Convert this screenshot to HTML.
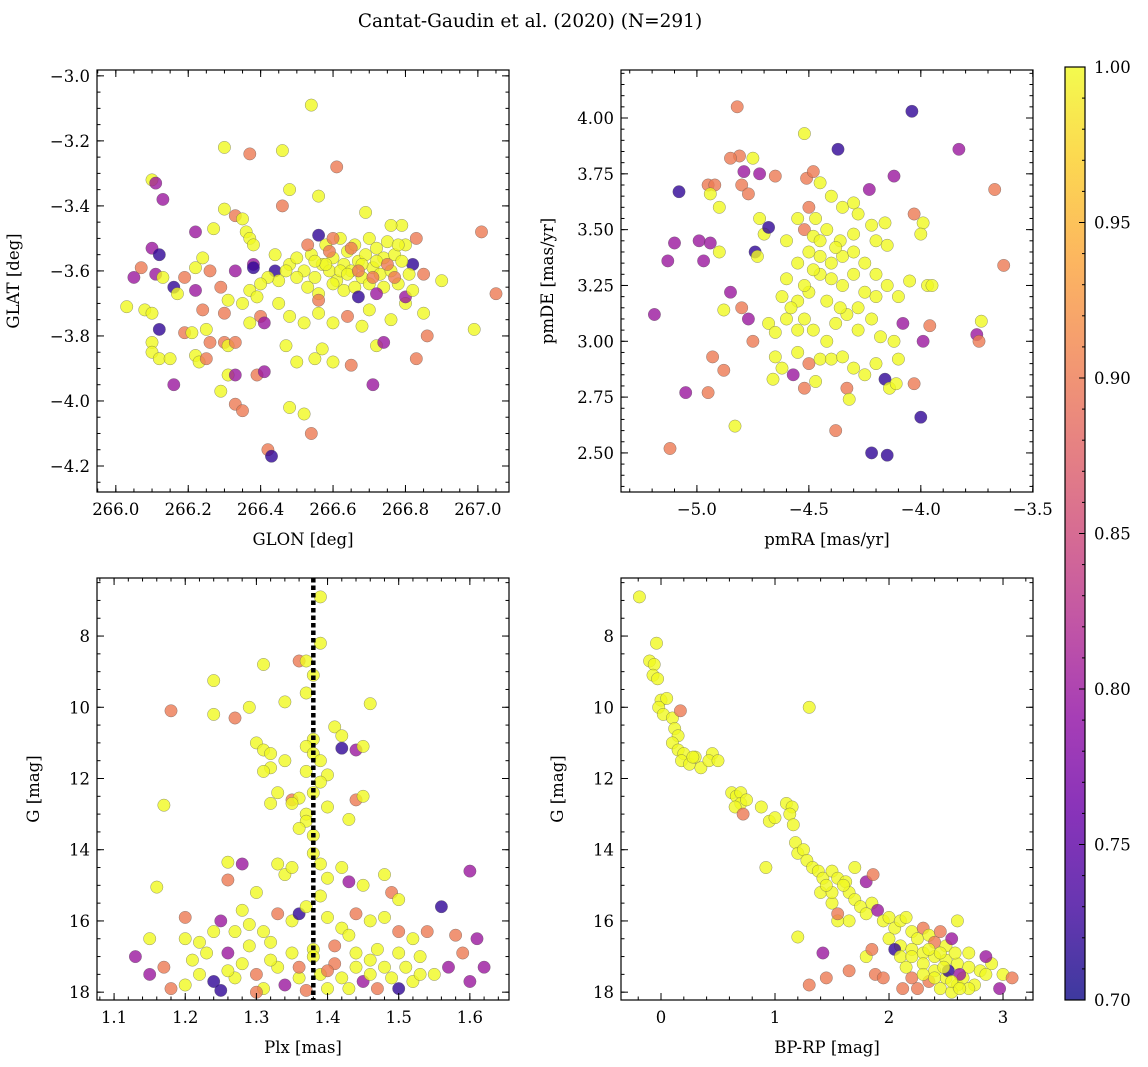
<!DOCTYPE html>
<html><head><meta charset="utf-8">
<style>
html,body{margin:0;padding:0;background:#fff;}
svg{display:block;font-family:"DejaVu Serif","Liberation Serif",serif;}
</style></head>
<body>
<svg id="fig" width="1148" height="1067" viewBox="0 0 1148 1067" xmlns="http://www.w3.org/2000/svg">
<text x="530" y="27" font-size="18.5" text-anchor="middle">Cantat-Gaudin et al. (2020) (N=291)</text>
</svg>
<script>
// ---------- data ----------
const skyPoints = [
[266.54,-3.09,1],[266.30,-3.22,1],[266.37,-3.24,0.9],[266.46,-3.23,1],[266.61,-3.28,0.9],
[266.10,-3.32,1],[266.11,-3.33,0.8],[266.13,-3.38,0.8],[266.48,-3.35,1],[266.56,-3.37,1],
[266.30,-3.41,1],[266.33,-3.43,0.9],[266.46,-3.40,0.9],[266.35,-3.44,1],[266.10,-3.53,0.8],
[266.12,-3.55,0.72],[266.22,-3.48,0.8],[266.27,-3.47,1],[266.36,-3.48,1],[266.37,-3.5,1],[266.38,-3.52,1],
[266.05,-3.62,0.8],[266.07,-3.59,0.9],[266.11,-3.61,0.8],[266.13,-3.62,1],[266.16,-3.65,0.72],[266.17,-3.67,1],
[266.19,-3.62,0.9],[266.22,-3.59,1],[266.22,-3.66,0.8],[266.24,-3.56,1],[266.26,-3.60,0.9],
[266.03,-3.71,1],[266.08,-3.72,1],[266.10,-3.73,1],[266.12,-3.78,0.72],[266.10,-3.82,1],[266.10,-3.85,1],
[266.12,-3.87,1],[266.15,-3.87,1],[266.16,-3.95,0.8],[266.19,-3.79,0.9],[266.21,-3.79,1],[266.22,-3.86,1],
[266.23,-3.88,1],[266.24,-3.72,0.9],[266.25,-3.78,1],[266.26,-3.82,0.9],[266.25,-3.87,0.9],[266.30,-3.82,0.9],
[266.31,-3.83,1],[266.33,-3.82,0.9],[266.31,-3.92,1],[266.33,-3.92,0.8],[266.29,-3.97,1],[266.33,-4.01,0.9],
[266.35,-4.03,0.9],[266.39,-3.92,0.9],[266.41,-3.91,0.8],[266.42,-4.15,0.9],[266.43,-4.17,0.72],[266.48,-4.02,1],
[266.52,-4.04,1],[266.54,-4.10,0.9],[266.47,-3.83,1],[266.50,-3.88,1],[266.57,-3.84,1],[266.55,-3.87,1],
[266.60,-3.88,1],[266.65,-3.89,0.9],[266.71,-3.95,0.8],[266.72,-3.83,1],[266.74,-3.82,0.8],[266.83,-3.87,0.9],
[266.86,-3.80,0.9],[266.99,-3.78,1],[267.01,-3.48,0.9],[267.05,-3.67,0.9],[266.90,-3.63,1],[266.85,-3.61,0.9],
[266.82,-3.58,0.72],[266.83,-3.50,0.9],[266.79,-3.46,1],[266.76,-3.46,1],[266.69,-3.42,1],[266.38,-3.58,0.8],
[266.38,-3.59,0.72],[266.44,-3.60,0.72],[266.56,-3.49,0.72],[266.44,-3.55,1],[266.37,-3.66,1],[266.40,-3.74,0.9],
[266.37,-3.76,1],[266.41,-3.76,0.8],[266.30,-3.73,0.9],[266.29,-3.65,0.9],[266.33,-3.60,0.8],[266.31,-3.69,1],
[266.35,-3.70,1],[266.39,-3.68,1],[266.45,-3.70,1],[266.48,-3.74,1],[266.52,-3.76,1],[266.56,-3.73,1],
[266.60,-3.76,1],[266.64,-3.74,0.9],[266.68,-3.77,1],[266.70,-3.72,1],[266.76,-3.75,1],[266.80,-3.70,1],
[266.85,-3.73,1],[266.80,-3.68,0.8],
[266.48,-3.58,1],[266.50,-3.56,1],[266.52,-3.60,1],[266.54,-3.55,1],[266.55,-3.62,1],[266.57,-3.58,1],
[266.58,-3.52,1],[266.59,-3.60,1],[266.60,-3.56,1],[266.61,-3.63,1],[266.62,-3.50,1],[266.63,-3.58,1],
[266.64,-3.54,1],[266.65,-3.60,1],[266.66,-3.52,1],[266.67,-3.57,1],[266.68,-3.62,1],[266.69,-3.55,1],
[266.70,-3.50,1],[266.71,-3.59,1],[266.72,-3.53,1],[266.73,-3.61,1],[266.74,-3.56,1],[266.75,-3.51,1],
[266.76,-3.60,1],[266.77,-3.55,1],[266.78,-3.64,1],[266.79,-3.57,1],[266.80,-3.52,1],[266.81,-3.61,1],
[266.82,-3.66,1],[266.78,-3.52,1],[266.53,-3.65,1],[266.56,-3.67,1],[266.60,-3.64,1],[266.63,-3.66,1],
[266.66,-3.65,1],[266.70,-3.64,1],[266.74,-3.65,1],[266.50,-3.62,1],[266.47,-3.60,1],[266.45,-3.63,1],
[266.42,-3.62,1],[266.40,-3.64,1],[266.58,-3.58,1],[266.62,-3.60,1],[266.68,-3.58,1],[266.72,-3.57,1],
[266.64,-3.61,1],[266.55,-3.57,1],[266.59,-3.54,0.9],[266.67,-3.60,0.9],[266.75,-3.58,0.9],[266.71,-3.62,0.9],
[266.65,-3.53,0.9],[266.77,-3.62,0.9],[266.53,-3.52,0.9],[266.60,-3.50,0.9],[266.72,-3.67,0.8],[266.67,-3.68,0.72],
[266.56,-3.69,0.9]
];
const pmPoints = [
[-4.52,3.93,1],[-4.04,4.03,0.72],[-4.37,3.86,0.72],[-3.83,3.86,0.8],[-4.82,4.05,0.9],[-4.81,3.83,0.9],
[-4.85,3.82,0.9],[-4.72,3.75,0.8],[-4.79,3.76,0.8],[-4.65,3.74,0.9],[-4.51,3.73,0.9],[-4.48,3.76,0.9],
[-4.45,3.71,1],[-4.23,3.68,0.8],[-4.12,3.74,0.8],[-3.67,3.68,0.9],[-5.08,3.67,0.72],[-4.95,3.70,0.9],
[-4.92,3.70,0.9],[-4.94,3.66,1],[-4.80,3.70,0.9],[-4.77,3.66,0.9],[-4.90,3.60,1],[-4.50,3.60,0.9],
[-4.40,3.65,1],[-4.35,3.60,1],[-4.30,3.62,1],[-4.28,3.57,1],[-4.47,3.55,1],[-4.55,3.55,1],[-4.72,3.55,1],
[-4.70,3.48,1],[-4.68,3.51,0.72],[-4.74,3.40,0.72],[-4.73,3.38,1],[-4.60,3.45,1],[-4.52,3.50,0.9],
[-4.48,3.47,1],[-4.42,3.50,1],[-4.36,3.45,1],[-4.30,3.48,1],[-4.22,3.52,1],[-4.16,3.53,1],[-4.20,3.45,1],
[-4.15,3.43,1],[-4.03,3.57,0.9],[-3.99,3.53,1],[-4.00,3.48,1],[-4.05,3.27,1],[-3.97,3.25,1],[-3.95,3.25,1],
[-3.63,3.34,0.9],[-5.10,3.44,0.8],[-5.13,3.36,0.8],[-5.19,3.12,0.8],[-4.99,3.45,0.8],[-4.94,3.44,0.8],
[-4.97,3.36,0.8],[-4.90,3.40,1],[-4.88,3.14,1],[-4.85,3.22,0.8],[-4.80,3.15,0.9],[-4.77,3.10,0.8],
[-4.75,3.00,0.9],[-4.68,3.08,1],[-4.65,3.04,1],[-4.60,3.10,1],[-4.55,3.18,1],[-4.50,3.22,1],[-4.45,3.30,1],
[-4.40,3.28,1],[-4.35,3.25,1],[-4.30,3.30,1],[-4.25,3.22,1],[-4.20,3.20,1],[-4.15,3.25,1],[-4.10,3.20,1],
[-4.60,3.28,1],[-4.55,3.35,1],[-4.50,3.40,1],[-4.45,3.38,1],[-4.40,3.35,1],[-4.35,3.38,1],[-4.30,3.40,1],
[-4.25,3.35,1],[-4.20,3.30,1],[-4.62,3.20,1],[-4.58,3.15,1],[-4.52,3.10,1],[-4.48,3.05,1],[-4.42,3.00,1],
[-4.38,3.08,1],[-4.33,3.12,1],[-4.28,3.15,1],[-4.22,3.10,1],[-4.18,3.02,1],[-4.12,3.00,1],[-4.10,2.92,1],
[-4.65,2.93,1],[-4.62,2.88,1],[-4.55,2.95,1],[-4.50,2.90,0.9],[-4.45,2.92,1],[-4.40,2.92,1],[-4.35,2.93,1],
[-4.30,2.88,1],[-4.25,2.85,1],[-4.20,2.90,1],[-4.66,2.83,1],[-4.57,2.85,0.8],[-4.52,2.79,0.9],[-4.47,2.82,1],
[-4.33,2.79,0.9],[-4.32,2.74,1],[-4.16,2.83,0.72],[-4.14,2.79,1],[-4.11,2.81,1],[-4.03,2.81,0.9],
[-3.99,3.00,0.8],[-3.96,3.07,0.9],[-3.75,3.03,0.8],[-3.74,3.00,0.9],[-3.73,3.09,1],[-4.08,3.08,0.8],
[-4.88,2.87,0.9],[-4.93,2.93,0.9],[-4.95,2.77,0.9],[-5.05,2.77,0.8],[-5.12,2.52,0.9],[-4.83,2.62,1],
[-4.38,2.60,0.9],[-4.22,2.50,0.72],[-4.15,2.49,0.72],[-4.00,2.66,0.72],[-4.75,3.82,1],[-4.45,3.45,1],
[-4.38,3.42,1],[-4.48,3.32,1],[-4.42,3.18,1],[-4.36,3.15,1],[-4.52,3.25,1],[-4.28,3.05,1],[-4.55,3.05,1]
];
const plxPoints = [
[1.39,6.9,1],[1.39,8.2,1],[1.36,8.7,0.9],[1.37,8.7,1],[1.31,8.8,1],[1.38,9.1,1],[1.24,9.25,1],[1.37,9.6,1],
[1.34,9.85,1],[1.46,9.9,1],[1.29,10.0,1],[1.18,10.1,0.9],[1.24,10.2,1],[1.27,10.3,0.9],[1.41,10.55,1],
[1.42,10.8,1],[1.38,10.9,1],[1.42,11.15,0.72],[1.30,11.0,1],[1.31,11.2,1],[1.32,11.3,1],[1.32,11.7,1],
[1.31,11.8,1],[1.34,11.5,1],[1.37,11.1,1],[1.38,11.3,1],[1.39,11.5,1],[1.37,11.8,1],[1.40,11.9,1],
[1.44,11.2,0.8],[1.45,11.1,1],[1.39,12.1,1],[1.38,12.4,1],[1.33,12.4,1],[1.35,12.6,0.9],[1.36,12.55,1],
[1.35,12.7,1],[1.32,12.7,1],[1.44,12.6,0.9],[1.45,12.5,1],[1.40,12.8,1],[1.37,13.0,1],[1.37,13.2,1],
[1.36,13.4,1],[1.38,13.6,1],[1.43,13.15,1],[1.17,12.75,1],[1.16,15.05,1],[1.20,15.9,0.9],[1.26,14.35,1],
[1.26,14.85,0.9],[1.28,14.4,0.8],[1.30,15.2,1],[1.33,14.4,1],[1.34,14.7,1],[1.35,14.5,1],[1.38,14.1,1],
[1.39,14.4,1],[1.40,14.8,1],[1.42,14.5,1],[1.43,14.9,0.8],[1.45,15.0,1],[1.48,14.7,1],[1.49,15.2,0.9],
[1.50,15.4,1],[1.60,14.6,0.8],[1.56,15.6,0.72],[1.15,16.5,1],[1.20,16.5,1],[1.22,16.6,1],[1.25,16.0,0.8],
[1.28,15.7,1],[1.29,16.1,1],[1.31,16.3,1],[1.33,15.8,0.9],[1.35,16.0,1],[1.36,15.8,0.72],[1.40,15.9,1],
[1.42,16.2,1],[1.44,15.8,0.9],[1.46,16.0,1],[1.48,15.9,1],[1.50,16.3,0.9],[1.52,16.5,1],[1.54,16.3,0.9],
[1.58,16.4,0.9],[1.59,16.9,0.9],[1.61,16.5,0.8],[1.62,17.3,0.8],[1.60,17.7,0.8],[1.57,17.3,0.8],
[1.55,17.5,1],[1.13,17.0,0.8],[1.15,17.5,0.8],[1.17,17.3,0.9],[1.18,17.9,0.9],[1.20,17.8,1],[1.22,17.5,1],
[1.24,17.7,0.72],[1.25,17.95,0.72],[1.27,17.6,1],[1.28,17.2,1],[1.30,17.5,0.9],[1.31,17.9,1],[1.33,17.3,1],
[1.34,17.8,0.8],[1.36,17.6,1],[1.37,17.95,0.9],[1.39,17.5,1],[1.40,17.9,1],[1.41,17.2,0.9],[1.42,17.6,1],
[1.43,17.9,1],[1.44,17.3,1],[1.45,17.7,0.8],[1.46,17.5,1],[1.47,17.9,0.9],[1.48,17.3,1],[1.49,17.6,1],
[1.50,17.9,0.72],[1.51,17.3,1],[1.52,17.7,1],[1.53,17.5,1],[1.21,17.1,1],[1.23,16.9,1],[1.26,16.9,0.8],
[1.29,16.7,1],[1.32,16.6,1],[1.35,16.9,1],[1.38,16.8,1],[1.41,16.7,0.9],[1.44,16.9,1],[1.47,16.8,1],
[1.50,16.9,1],[1.53,17.0,1],[1.30,18.0,0.9],[1.38,17.0,1],[1.36,17.3,0.9],[1.40,17.4,0.9],[1.43,16.4,1],
[1.27,16.3,1],[1.24,16.3,1],[1.26,17.4,1],[1.32,17.1,1],[1.46,17.1,1],[1.39,15.3,1],[1.37,15.6,1]
];
const plxReference = [1.38];
const cmdPoints = [
[-0.19,6.9,1],[-0.04,8.2,1],[-0.10,8.7,1],[-0.06,8.8,1],[-0.07,9.1,1],[-0.03,9.2,1],[0.00,9.8,1],[0.05,9.75,1],
[-0.02,10.0,1],[0.02,10.2,1],[0.10,10.3,1],[0.17,10.1,0.9],[0.12,10.6,1],[0.15,10.8,1],[0.10,11.0,1],
[0.15,11.2,1],[0.20,11.3,1],[0.18,11.5,1],[0.25,11.6,1],[0.30,11.4,1],[0.35,11.7,1],[0.45,11.3,1],
[0.62,12.4,1],[0.66,12.5,1],[0.70,12.4,1],[0.70,12.7,1],[0.75,12.6,1],[0.65,12.8,1],[0.72,13.0,0.9],
[0.88,12.8,1],[0.95,13.2,1],[1.00,13.1,1],[1.10,12.7,1],[1.15,12.8,1],[1.13,13.0,1],[1.16,13.3,1],
[1.18,13.8,1],[1.20,14.1,1],[0.92,14.5,1],[1.30,10.0,1],[1.25,14.0,1],[1.28,14.3,1],[1.33,14.5,1],
[1.38,14.6,1],[1.42,14.8,1],[1.50,14.6,1],[1.55,14.8,1],[1.62,14.9,1],[1.70,14.5,1],[1.80,14.9,0.8],
[1.86,14.7,0.9],[1.65,15.2,1],[1.70,15.4,1],[1.75,15.6,1],[1.80,15.8,1],[1.85,15.5,1],[1.90,15.7,0.8],
[1.95,16.0,1],[2.00,15.9,1],[2.05,16.2,1],[2.10,16.0,1],[2.15,15.9,1],[2.20,16.3,1],[2.25,16.5,1],
[2.30,16.2,0.9],[2.35,16.4,1],[2.40,16.6,0.9],[2.45,16.3,0.9],[2.50,16.7,1],[2.55,16.5,0.8],[2.60,16.0,1],
[2.00,16.5,1],[2.10,16.7,1],[2.20,16.8,1],[2.30,16.9,1],[2.40,17.0,1],[2.50,17.1,1],[2.60,17.2,1],
[2.70,17.3,1],[2.80,17.4,1],[2.90,17.2,1],[3.00,17.5,1],[3.08,17.6,0.9],[2.97,17.9,0.8],[2.85,17.0,0.8],
[2.30,17.2,1],[2.40,17.4,1],[2.50,17.6,1],[2.60,17.8,1],[2.35,17.7,0.9],[2.45,17.9,1],[2.55,18.0,1],
[2.65,17.6,1],[2.75,17.8,1],[2.20,17.6,0.9],[2.15,17.3,1],[2.25,17.9,0.9],[2.52,17.4,0.72],[2.62,17.5,0.8],
[2.70,17.9,1],[1.80,17.0,1],[1.85,16.8,0.9],[1.88,17.5,0.9],[1.95,17.6,0.9],[1.65,17.4,0.9],[1.65,16.0,1],
[1.55,16.0,1],[1.50,15.5,1],[1.40,15.2,1],[1.42,16.9,0.8],[1.30,17.8,0.9],[1.45,17.6,0.9],[1.55,15.8,0.9],
[1.20,16.45,1],[0.42,11.5,1],[0.50,11.5,1],[0.28,11.4,1],[1.60,15.0,1],[1.50,15.2,1],[1.45,15.0,1],
[2.05,16.8,0.72],[2.10,17.0,1],[2.20,17.0,1],[2.30,17.5,1],[2.35,16.8,1],[2.45,16.9,1],[2.58,16.9,1],
[2.12,17.9,0.9],[2.70,16.9,1],[2.85,17.5,1],[2.40,17.6,1],[2.55,17.7,1],[2.48,17.3,1],[2.62,17.9,1]
];
const cbTicks = [0.70,0.75,0.80,0.85,0.90,0.95,1.00];

// ---------- helpers ----------
const NS='http://www.w3.org/2000/svg';
const svg=document.getElementById('fig');
const FS=16.5;
function mk(tag,attrs,parent){const e=document.createElementNS(NS,tag);for(const k in attrs)e.setAttribute(k,attrs[k]);(parent||svg).appendChild(e);return e;}
const plasmaStops=[[0,[13,8,135]],[0.1,[65,4,157]],[0.2,[106,0,168]],[0.3,[143,13,164]],[0.4,[177,42,144]],[0.5,[204,71,120]],[0.6,[225,100,98]],[0.7,[242,132,75]],[0.8,[252,166,54]],[0.9,[252,206,37]],[1,[240,249,33]]];
function plasma(t){t=Math.max(0,Math.min(1,t));for(let i=1;i<plasmaStops.length;i++){if(t<=plasmaStops[i][0]){const a=plasmaStops[i-1],b=plasmaStops[i];const f=(t-a[0])/(b[0]-a[0]);const c=a[1].map((v,j)=>Math.round(v+(b[1][j]-v)*f));return `rgb(${c[0]},${c[1]},${c[2]})`;}}return 'rgb(240,249,33)';}
function pcolor(p){return plasma((p-0.7)/0.3);}
function fmt(v,d){const s=Math.abs(v).toFixed(d);return (v<-1e-9?'\u2212':'')+s;}

function panel(o){
  const g=mk('g',{});
  
  
  const sx=v=>o.x0+(v-o.xmin)/(o.xmax-o.xmin)*(o.x1-o.x0);
  const sy=v=>o.inv? o.y0+(v-o.ymin)/(o.ymax-o.ymin)*(o.y1-o.y0) : o.y1-(v-o.ymin)/(o.ymax-o.ymin)*(o.y1-o.y0);
  const pg=mk('g',{},g);
  
  
  o.pts.forEach(d=>{
    const c=mk('circle',{cx:sx(d[0]).toFixed(1),cy:sy(d[1]).toFixed(1),r:6.2,fill:pcolor(d[2]),'fill-opacity':0.8,stroke:'#555','stroke-width':0.4,'stroke-opacity':0.8},pg);
    
    
  });
  if(o.vline!==undefined){
    const l=mk('line',{x1:sx(o.vline),x2:sx(o.vline),y1:o.y0,y2:o.y1,stroke:'#000','stroke-width':4.5,'stroke-dasharray':'4.5,3'},g);
    
    
  }
  const f=mk('rect',{x:o.x0,y:o.y0,width:o.x1-o.x0,height:o.y1-o.y0,fill:'none',stroke:'#000','stroke-width':1.2},g);
  
  
  const tg=mk('g',{stroke:'#000','stroke-width':1},g);
  function ticksX(step,len,label){
    const s=Math.ceil((o.xmin-1e-9)/step);
    for(let i=s;i*step<=o.xmax+1e-9;i++){const v=i*step,x=sx(v);
      mk('line',{x1:x,x2:x,y1:o.y1,y2:o.y1-len},tg);mk('line',{x1:x,x2:x,y1:o.y0,y2:o.y0+len},tg);
      if(label){const t=mk('text',{x:x,y:o.y1+23,'font-size':FS,'text-anchor':'middle'},g);t.textContent=fmt(v,o.xd);
        }}
  }
  function ticksY(step,len,label){
    const lo=Math.min(o.ymin,o.ymax),hi=Math.max(o.ymin,o.ymax);
    const s=Math.ceil((lo-1e-9)/step);
    for(let i=s;i*step<=hi+1e-9;i++){const v=i*step,y=sy(v);
      mk('line',{x1:o.x0,x2:o.x0+len,y1:y,y2:y},tg);mk('line',{x1:o.x1,x2:o.x1-len,y1:y,y2:y},tg);
      if(label){const t=mk('text',{x:o.x0-7,y:y+6,'font-size':FS,'text-anchor':'end'},g);t.textContent=fmt(v,o.yd);
        }}
  }
  ticksX(o.xmaj,7,true);ticksX(o.xmin_,3.5,false);
  ticksY(o.ymaj,7,true);ticksY(o.ymin_,3.5,false);
  const xl=mk('text',{x:(o.x0+o.x1)/2,y:o.y1+53,'font-size':FS,'text-anchor':'middle'},g);xl.textContent=o.xlab;
  
  const yx=o.x0-o.ylabOff,yy=(o.y0+o.y1)/2;
  const yl=mk('text',{x:yx,y:yy,'font-size':FS,'text-anchor':'middle',transform:`rotate(-90 ${yx} ${yy})`},g);yl.textContent=o.ylab;
  
}

panel({name:'sky-position-panel',pts:skyPoints,x0:97,x1:509,y0:70,y1:492,xmin:265.948,xmax:267.086,ymin:-4.28,ymax:-2.982,
  xmaj:0.2,xmin_:0.05,ymaj:0.2,ymin_:0.05,xd:1,yd:1,xlab:'GLON [deg]',ylab:'GLAT [deg]',ylabOff:78});
panel({name:'proper-motion-panel',pts:pmPoints,x0:621,x1:1033,y0:70,y1:492,xmin:-5.339,xmax:-3.499,ymin:2.325,ymax:4.215,
  xmaj:0.5,xmin_:0.1,ymaj:0.25,ymin_:0.05,xd:1,yd:2,xlab:'pmRA [mas/yr]',ylab:'pmDE [mas/yr]',ylabOff:68});
panel({name:'parallax-magnitude-panel',pts:plxPoints,vline:plxReference[0],x0:97,x1:509,y0:578,y1:1000,xmin:1.076,xmax:1.655,ymin:6.37,ymax:18.22,inv:true,
  xmaj:0.1,xmin_:0.02,ymaj:2,ymin_:0.5,xd:1,yd:0,xlab:'Plx [mas]',ylab:'G [mag]',ylabOff:58});
panel({name:'color-magnitude-panel',pts:cmdPoints,x0:621,x1:1033,y0:578,y1:1000,xmin:-0.351,xmax:3.263,ymin:6.37,ymax:18.22,inv:true,
  xmaj:1,xmin_:0.2,ymaj:2,ymin_:0.5,xd:0,yd:0,xlab:'BP-RP [mag]',ylab:'G [mag]',ylabOff:58});

(function(){
  const cx0=1065,cx1=1085,cy0=67,cy1=1000;
  const g=mk('g',{});
  
  
  const defs=mk('defs',{},g);
  const lg=mk('linearGradient',{id:'cbg',x1:0,y1:1,x2:0,y2:0},defs);
  for(let i=0;i<=20;i++){mk('stop',{offset:i/20,'stop-color':plasma(i/20),'stop-opacity':0.8},lg);}
  mk('rect',{x:cx0,y:cy0,width:cx1-cx0,height:cy1-cy0,fill:'url(#cbg)'},g);
  mk('rect',{x:cx0,y:cy0,width:cx1-cx0,height:cy1-cy0,fill:'none',stroke:'#000','stroke-width':1.2},g);
  const sy=v=>cy1-(v-0.7)/0.3*(cy1-cy0);
  for(let i=70;i<=100;i++){const y=sy(i/100);const maj=(i%5===0);
    mk('line',{x1:cx1,x2:cx1-(maj?6:3),y1:y,y2:y,stroke:'#000','stroke-width':1},g);}
  cbTicks.forEach(v=>{const t=mk('text',{x:cx1+9,y:sy(v)+6,'font-size':FS},g);t.textContent=v.toFixed(2);
    });
})();
</script>
</body></html>
